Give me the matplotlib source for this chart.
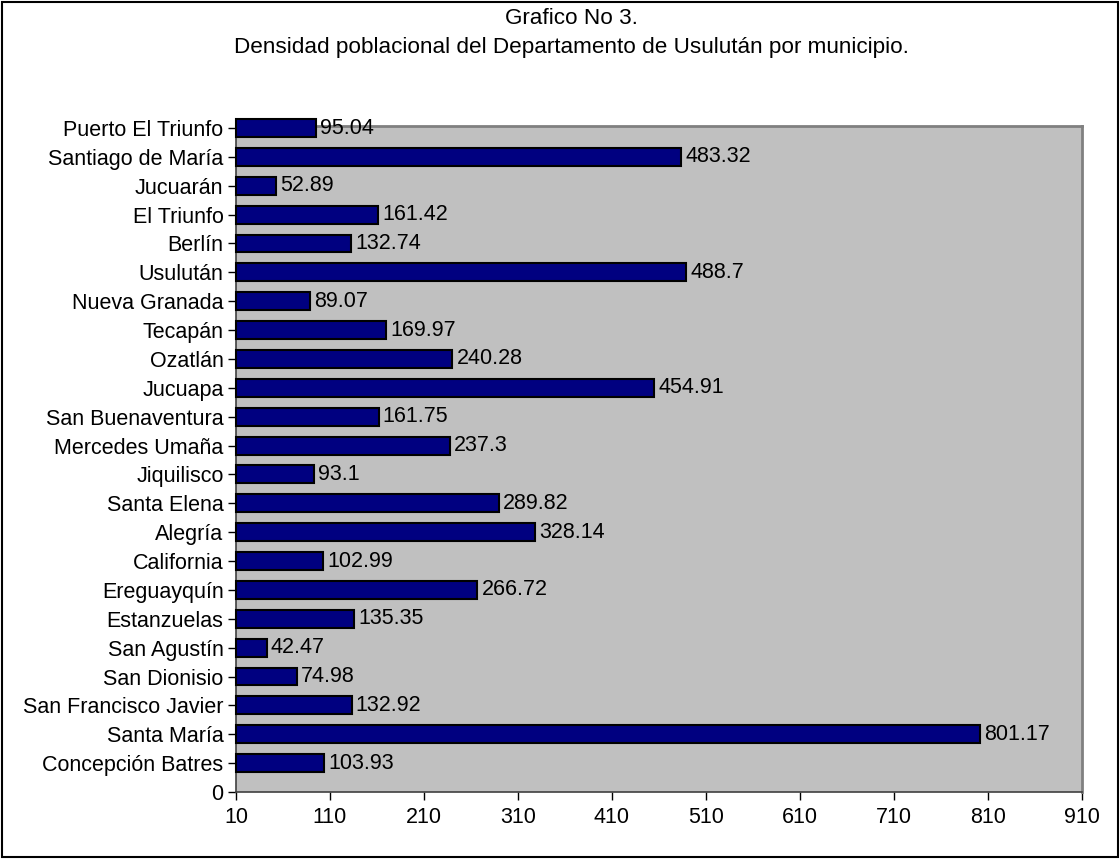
import matplotlib.pyplot as plt
from matplotlib.patches import Rectangle

plt.rcParams['font.family'] = ['Liberation Sans', 'DejaVu Sans']

municipios = ['Concepción Batres', 'Santa María', 'San Francisco Javier', 'San Dionisio',
              'San Agustín', 'Estanzuelas', 'Ereguayquín', 'California', 'Alegría',
              'Santa Elena', 'Jiquilisco', 'Mercedes Umaña', 'San Buenaventura', 'Jucuapa',
              'Ozatlán', 'Tecapán', 'Nueva Granada', 'Usulután', 'Berlín', 'El Triunfo',
              'Jucuarán', 'Santiago de María', 'Puerto El Triunfo']
densidad = [103.93, 801.17, 132.92, 74.98, 42.47, 135.35, 266.72, 102.99, 328.14,
            289.82, 93.1, 237.3, 161.75, 454.91, 240.28, 169.97, 89.07, 488.7, 132.74,
            161.42, 52.89, 483.32, 95.04]
etiquetas = [f'{v:g}' for v in densidad]
x_ticks = [10, 110, 210, 310, 410, 510, 610, 710, 810, 910]

fs = 15.5

fig = plt.figure(figsize=(11.2, 8.59), dpi=100)
ax = fig.add_axes([236 / 1120, 1 - 792 / 859, (1082 - 236) / 1120, (792 - 125.7) / 859])
ax.set_facecolor('#c0c0c0')

pos = list(range(1, len(municipios) + 1))
x0 = x_ticks[0]
ax.barh(pos, [v - x0 for v in densidad], left=x0, height=0.62, color='#000080',
        edgecolor='black', linewidth=1.5, clip_on=False, zorder=3)
for p, v, t in zip(pos, densidad, etiquetas):
    ax.annotate(t, (v, p), xytext=(3, 0), textcoords='offset points',
                va='center', ha='left', fontsize=fs, zorder=4, annotation_clip=False)

ax.set_xlim(10, 910)
ax.set_ylim(0, 23.08)
ax.set_xticks(x_ticks)
ax.set_yticks([0] + pos)
ax.set_yticklabels(['0'] + municipios)
ax.tick_params(axis='both', labelsize=fs, length=6, width=1, direction='out', colors='black')
ax.tick_params(axis='x', pad=5)
ax.tick_params(axis='y', pad=3)

for s in ['top', 'right']:
    ax.spines[s].set_color('#808080')
    ax.spines[s].set_linewidth(2)
for s in ['left', 'bottom']:
    ax.spines[s].set_color('#404040')
    ax.spines[s].set_linewidth(1.2)

fig.text(0.51, 1 - 18 / 859, 'Grafico No 3.', ha='center', va='center', fontsize=16.2)
fig.text(0.51, 1 - 47 / 859, 'Densidad poblacional del Departamento de Usulután por municipio.',
         ha='center', va='center', fontsize=16.2)

fig.patches.append(Rectangle((2 / 1120, 2 / 859), 1 - 4 / 1120, 1 - 4 / 859,
                             transform=fig.transFigure, fill=False,
                             edgecolor='black', linewidth=1.5))

fig.savefig('out.png', dpi=100)
